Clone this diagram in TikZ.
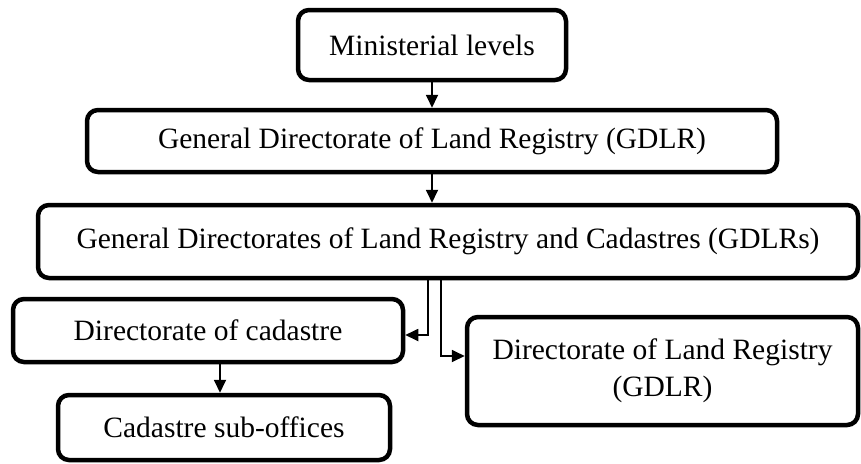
\documentclass[tikz,border=0pt]{standalone}
\usepackage{fontspec}
\setmainfont{Liberation Serif}
\usetikzlibrary{arrows.meta}
\begin{document}
\begin{tikzpicture}[x=1pt,y=-1pt,
  unit/.style={draw=black, line width=4.5pt, rounded corners=11pt, fill=white,
    inner sep=0pt, align=center, font=\fontsize{29.5}{37}\selectfont},
  link/.style={draw=black, line width=1.8pt, -{Triangle[length=13pt,width=12pt]}}]
  \useasboundingbox (0,0) rectangle (861,463);

  % organisational units
  \node[unit, minimum width=268pt, minimum height=70pt] (m1) at (432,45) {Ministerial levels};
  \node[unit, minimum width=690pt, minimum height=62pt] (m2) at (432,141) {General Directorate of Land Registry (GDLR)};
  \node[unit, minimum width=820pt, minimum height=73pt] (m3) at (448,241.5) {General Directorates of Land Registry and Cadastres (GDLRs)};
  \node[unit, minimum width=390pt, minimum height=63pt] (m4) at (208,330.5) {Directorate of cadastre};
  \node[unit, minimum width=332pt, minimum height=65pt] (m5) at (224,427.5) {Cadastre sub-offices};
  \node[unit, minimum width=391pt, minimum height=108pt] (m6) at (662.5,371) {Directorate of Land Registry\\(GDLR)};

  % routing points of the branches
  \coordinate (b1) at (428,335);
  \coordinate (b2) at (441,356);
  \coordinate (b3) at (220,0);

  % reporting lines
  \draw[link] (m1.south) -- (m2.north);
  \draw[link] (m2.south) -- (m3.north -| m2.south);
  \draw[link] (m3.south -| b1) |- (m4.east |- b1);
  \draw[link] (m3.south -| b2) |- (m6.west |- b2);
  \draw[link] (m4.south -| b3) -- (m5.north -| b3);
\end{tikzpicture}
\end{document}
